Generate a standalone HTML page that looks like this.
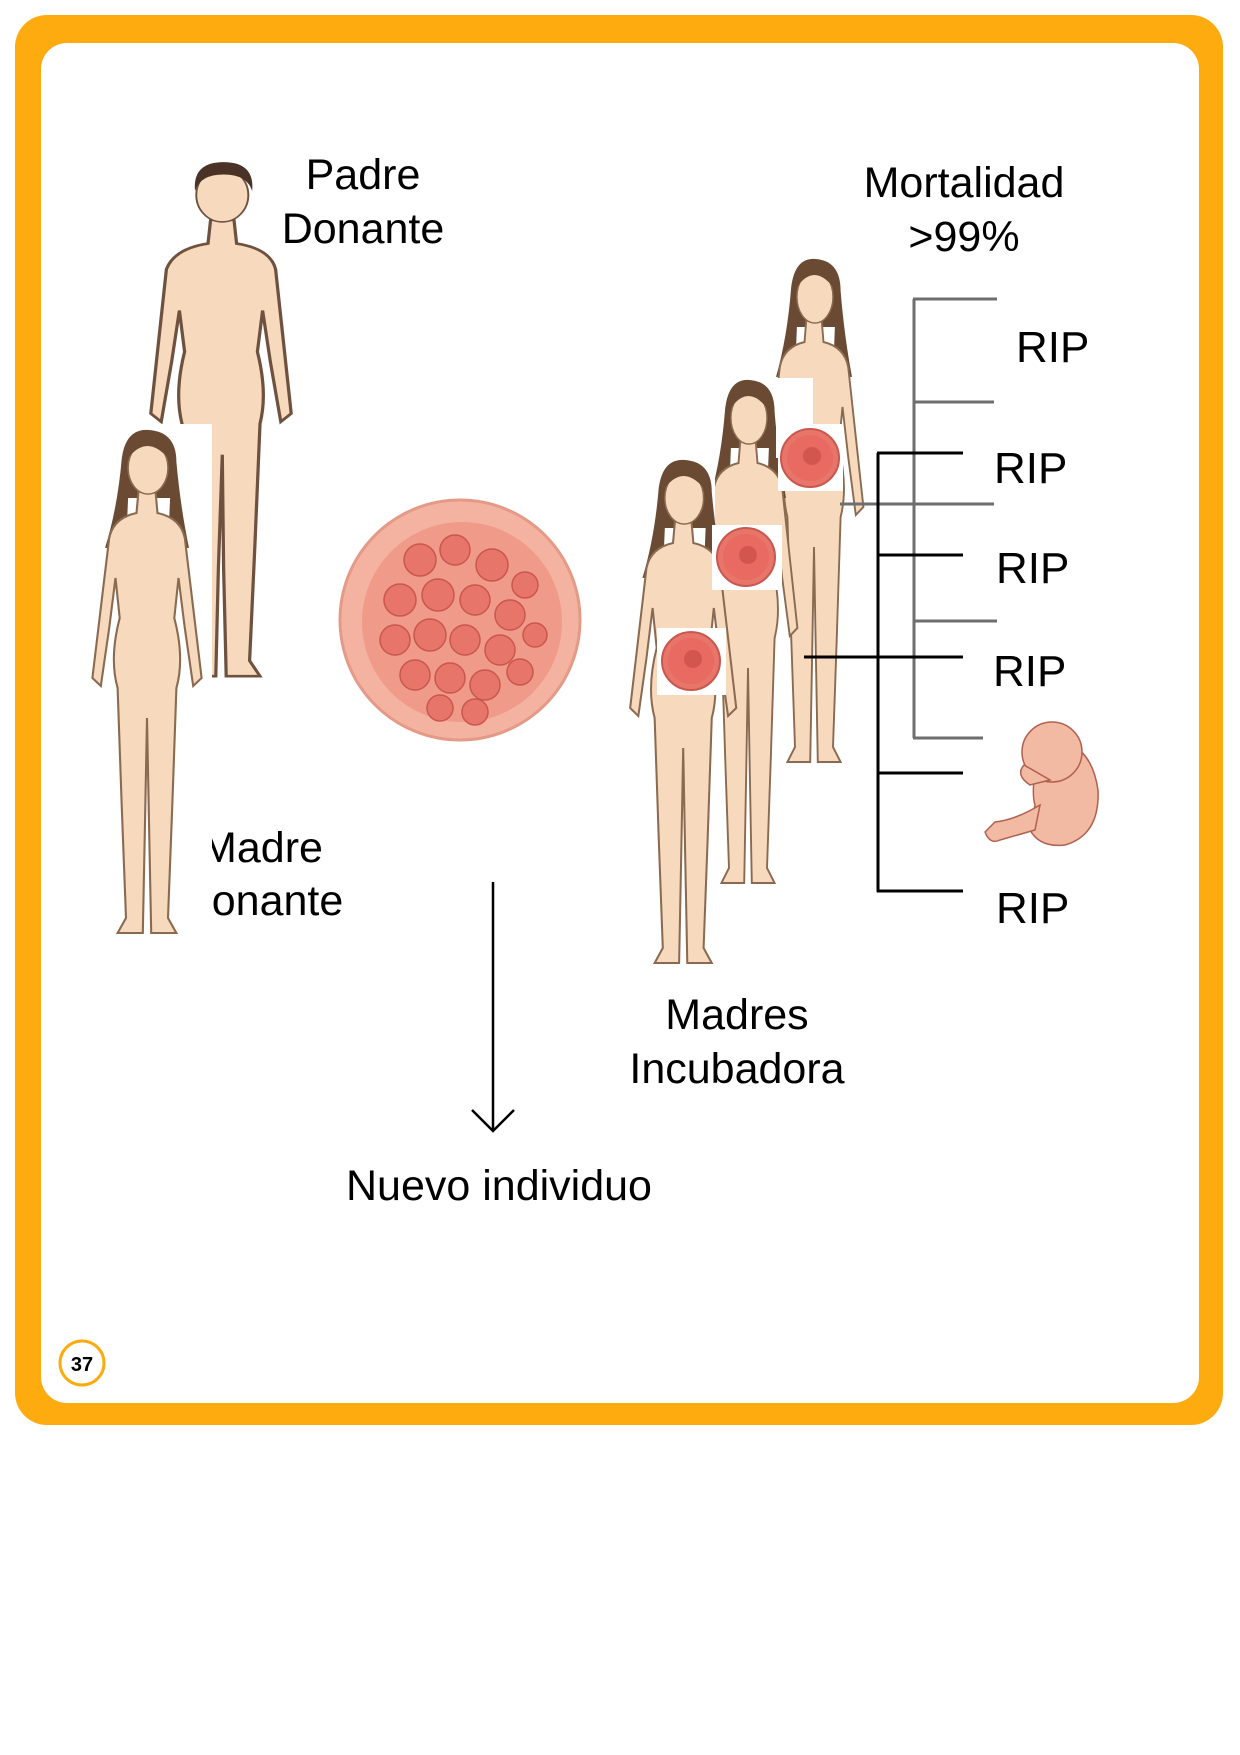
<!DOCTYPE html>
<html><head><meta charset="utf-8"><style>
html,body{margin:0;padding:0;background:#fff;}
svg{display:block}
text{font-family:"Liberation Sans",Arial,sans-serif;fill:#000}
</style></head><body>
<svg width="1240" height="1755" viewBox="0 0 1240 1755" xmlns="http://www.w3.org/2000/svg">
<defs>
<g id="woman">
  <path d="M36,30 Q40,0 62,2 Q88,4 88,34 Q92,80 100,120 L80,118 L82,70 L42,70 L40,118 L20,120 Q32,80 36,30Z" fill="#6b4a34"/>
  <path d="M52,62 L68,62 L70,85 Q92,90 96,110 L104,180 L112,250 L104,258 L96,200 L90,150 L86,190 Q96,230 88,260 L84,380 L80,490 L88,505 L64,505 L62,400 L60,290 L58,400 L56,505 L32,505 L40,490 L36,380 L32,260 Q24,230 34,190 L30,150 L24,200 L16,258 L8,250 L16,180 L24,110 Q28,90 50,85 Z" fill="#f7d9bd" stroke="#8a6a50" stroke-width="2"/>
  <ellipse cx="61" cy="40" rx="19" ry="26" fill="#f7d9bd" stroke="#8a6a50" stroke-width="1.5"/>
  <path d="M42,30 Q60,6 80,30 Q78,12 61,10 Q44,12 42,30Z" fill="#6b4a34"/>
</g>
<g id="man">
  <path d="M52,62 L70,62 L72,85 Q98,90 102,110 L108,180 L114,250 L106,258 L98,200 L92,150 L88,190 Q96,230 90,260 L86,380 L82,490 L90,505 L64,505 L62,400 L61,290 L58,400 L56,505 L30,505 L38,490 L34,380 L30,260 Q24,230 32,190 L28,150 L22,200 L14,258 L6,250 L12,180 L18,110 Q24,90 50,85 Z" fill="#f7d9bd" stroke="#6f5140" stroke-width="2.5"/>
  <ellipse cx="61" cy="38" rx="20" ry="26" fill="#f7d9bd" stroke="#6f5140" stroke-width="1.5"/>
  <path d="M40,34 Q38,6 62,6 Q86,6 84,34 Q80,18 62,18 Q44,18 40,34Z" fill="#4a3326"/>
</g>
<g id="disc">
  <circle cx="0" cy="0" r="29" fill="#e8756a" stroke="#c9574e" stroke-width="2"/>
  <circle cx="0" cy="0" r="23" fill="#e86a60"/>
  <circle cx="2" cy="-2" r="9" fill="#d3564e"/>
</g>
</defs>

<!-- frame -->
<rect x="15" y="15" width="1208" height="1410" rx="32" fill="#fdab0f"/>
<rect x="41" y="43" width="1158" height="1360" rx="26" fill="#fff"/>
<circle cx="82" cy="1363" r="22" fill="#fff" stroke="#fdab0f" stroke-width="3"/>
<text x="82" y="1371" font-size="20" font-weight="bold" text-anchor="middle">37</text>

<!-- man -->
<use href="#man" transform="translate(143,156) scale(1.3,1.03)"/>
<text x="363" y="189" font-size="43" text-anchor="middle">Padre</text>
<text x="363" y="243" font-size="43" text-anchor="middle">Donante</text>

<!-- Madre donante text then woman image covering -->
<text x="262" y="862" font-size="43" text-anchor="middle">Madre</text>
<text x="262" y="915" font-size="43" text-anchor="middle">Donante</text>
<rect x="84" y="424" width="128" height="514" fill="#fff"/>
<use href="#woman" transform="translate(84,428) scale(1.05,1.0)"/>

<!-- blastocyst -->
<circle cx="460" cy="620" r="120" fill="#f4b2a0" stroke="#e59a88" stroke-width="3"/>
<circle cx="462" cy="622" r="100" fill="#f09a8a"/>
<g fill="#e8756a" stroke="#c9574e" stroke-width="1.5">
<circle cx="420" cy="560" r="16"/><circle cx="455" cy="550" r="15"/><circle cx="492" cy="565" r="16"/><circle cx="525" cy="585" r="13"/>
<circle cx="400" cy="600" r="16"/><circle cx="438" cy="595" r="16"/><circle cx="475" cy="600" r="15"/><circle cx="510" cy="615" r="15"/>
<circle cx="395" cy="640" r="15"/><circle cx="430" cy="635" r="16"/><circle cx="465" cy="640" r="15"/><circle cx="500" cy="650" r="15"/><circle cx="535" cy="635" r="12"/>
<circle cx="415" cy="675" r="15"/><circle cx="450" cy="678" r="15"/><circle cx="485" cy="685" r="15"/><circle cx="520" cy="672" r="13"/>
<circle cx="440" cy="708" r="13"/><circle cx="475" cy="712" r="13"/>
</g>

<!-- arrow -->
<line x1="493" y1="882" x2="493" y2="1130" stroke="#000" stroke-width="2.5"/>
<polyline points="472,1110 493,1131 514,1110" fill="none" stroke="#000" stroke-width="2.5"/>
<text x="499" y="1200" font-size="43" text-anchor="middle">Nuevo individuo</text>

<!-- women right -->
<use href="#woman" transform="translate(757,257) scale(0.95,1.0)"/>
<rect x="693" y="378" width="84" height="130" fill="#fff"/>
<use href="#woman" transform="translate(691,378) scale(0.95,1.0)"/>
<rect x="776" y="378" width="37" height="80" fill="#fff"/>
<rect x="778" y="424" width="65" height="67" fill="#fff"/>
<use href="#disc" transform="translate(810,458)"/>
<rect x="625" y="458" width="90" height="80" fill="#fff"/>
<use href="#woman" transform="translate(622,458) scale(1.02,1.0)"/>
<rect x="712" y="525" width="70" height="65" fill="#fff"/>
<use href="#disc" transform="translate(746,557)"/>
<rect x="657" y="628" width="69" height="67" fill="#fff"/>
<use href="#disc" transform="translate(691,661)"/>

<text x="964" y="197" font-size="43" text-anchor="middle">Mortalidad</text>
<text x="964" y="251" font-size="43" text-anchor="middle">&gt;99%</text>
<text x="737" y="1029" font-size="43" text-anchor="middle">Madres</text>
<text x="737" y="1083" font-size="43" text-anchor="middle">Incubadora</text>

<!-- gray tree -->
<g stroke="#6e6e6e" stroke-width="3" fill="none">
<line x1="914" y1="299" x2="914" y2="738"/>
<line x1="913" y1="299" x2="997" y2="299"/>
<line x1="913" y1="402" x2="994" y2="402"/>
<line x1="840" y1="504" x2="994" y2="504"/>
<line x1="913" y1="621" x2="997" y2="621"/>
<line x1="913" y1="738" x2="983" y2="738"/>
</g>
<!-- black tree -->
<g stroke="#000" stroke-width="3" fill="none">
<line x1="878" y1="453" x2="878" y2="892"/>
<line x1="877" y1="453" x2="963" y2="453"/>
<line x1="877" y1="555" x2="963" y2="555"/>
<line x1="804" y1="657" x2="963" y2="657"/>
<line x1="877" y1="773" x2="963" y2="773"/>
<line x1="877" y1="891" x2="963" y2="891"/>
</g>
<g font-size="44">
<text x="1016" y="362">RIP</text>
<text x="994" y="483">RIP</text>
<text x="996" y="583">RIP</text>
<text x="993" y="686">RIP</text>
<text x="996" y="923">RIP</text>
</g>

<!-- fetus -->
<g stroke="#b0614f" stroke-width="1.5" fill="#f2b9a3">
<path d="M1040,740 Q1090,735 1098,790 Q1100,835 1065,845 Q1040,848 1030,830 L1035,805 Q1030,790 1040,740Z"/>
<circle cx="1052" cy="752" r="30"/>
<path d="M1040,805 Q1015,820 995,822 L985,832 Q990,845 1000,840 L1035,830 Z"/>
<path d="M1024,765 Q1015,775 1030,785 L1050,780 Z"/>
</g>
</svg>
</body></html>
